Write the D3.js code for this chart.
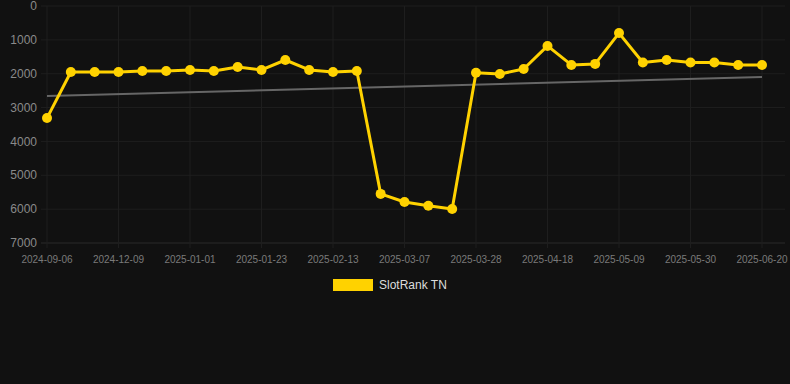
<!DOCTYPE html>
<html lang="en">
<head>
  <meta charset="UTF-8" />
  <title>SlotRank TN</title>
  <script src="https://d3js.org/d3.v7.min.js"></script>
  <style>
    html, body { margin: 0; padding: 0; background: #111111; }
    svg { display: block; font-family: "Liberation Sans", Arial, sans-serif; }
  </style>
</head>
<body>
  <svg id="chart" width="790" height="384"></svg>
  <script>
    // dates for each point (only every third is labelled on the axis)
    const dates = [
      "2024-09-06", "2024-11-18", "2024-12-02", "2024-12-09", "2024-12-16", "2024-12-23",
      "2025-01-01", "2025-01-08", "2025-01-15", "2025-01-23", "2025-01-30", "2025-02-06",
      "2025-02-13", "2025-02-20", "2025-02-27", "2025-03-07", "2025-03-14", "2025-03-21",
      "2025-03-28", "2025-04-04", "2025-04-11", "2025-04-18", "2025-04-25", "2025-05-02",
      "2025-05-09", "2025-05-16", "2025-05-23", "2025-05-30", "2025-06-06", "2025-06-13",
      "2025-06-20"
    ];
    const rank = [
      3310, 1950, 1950, 1950, 1920, 1920, 1890, 1920, 1800, 1890, 1595, 1890,
      1950, 1920, 5550, 5790, 5900, 5995, 1970, 2010, 1860, 1180, 1740, 1710,
      800, 1670, 1595, 1670, 1670, 1740, 1740
    ];
    const trend = [2660, 2097];
    const yTicks = [0, 1000, 2000, 3000, 4000, 5000, 6000, 7000];
    const seriesName = "SlotRank TN";

    const svg = d3.select("#chart");
    const plot = { left: 47, right: 762, top: 6, bottom: 243 };

    const x = d3.scalePoint().domain(dates).range([plot.left, plot.right]);
    const y = d3.scaleLinear().domain([0, 7000]).range([plot.top, plot.bottom]);

    const labelled = dates.filter((d, i) => i % 3 === 0);

    // grid
    svg.append("g")
      .selectAll("line")
      .data(yTicks)
      .join("line")
      .attr("x1", 41).attr("x2", 785)
      .attr("y1", d => y(d)).attr("y2", d => y(d))
      .style("stroke", d => d === 7000 ? "#2a2a2a" : "#1e1e1e")
      .style("stroke-width", 1);

    svg.append("g")
      .selectAll("line")
      .data(labelled)
      .join("line")
      .attr("x1", d => x(d)).attr("x2", d => x(d))
      .attr("y1", plot.top).attr("y2", plot.bottom + 5)
      .style("stroke", "#1e1e1e")
      .style("stroke-width", 1);

    // y labels
    svg.append("g")
      .selectAll("text")
      .data(yTicks)
      .join("text")
      .attr("x", 37)
      .attr("y", d => y(d))
      .attr("dy", "0.35em")
      .attr("text-anchor", "end")
      .attr("fill", "#8a8a8a")
      .style("font-size", "12px")
      .text(d => d);

    // x labels
    svg.append("g")
      .selectAll("text")
      .data(labelled)
      .join("text")
      .attr("x", d => x(d))
      .attr("y", 263)
      .attr("text-anchor", "middle")
      .attr("fill", "#7a7a7a")
      .style("font-size", "10px")
      .text(d => d);

    // trend line
    svg.append("line")
      .attr("x1", x(dates[0])).attr("y1", y(trend[0]))
      .attr("x2", x(dates[dates.length - 1])).attr("y2", y(trend[1]))
      .style("stroke", "#666")
      .style("stroke-width", 2);

    // series
    const line = d3.line()
      .x((d, i) => x(dates[i]))
      .y(d => y(d));

    svg.append("path")
      .datum(rank)
      .attr("d", line)
      .style("fill", "none")
      .style("stroke", "#ffd200")
      .style("stroke-width", 3)
      .style("stroke-linejoin", "round");

    svg.append("g")
      .selectAll("circle")
      .data(rank)
      .join("circle")
      .attr("cx", (d, i) => x(dates[i]))
      .attr("cy", d => y(d))
      .attr("r", 5)
      .style("fill", "#ffd200");

    // legend
    svg.append("rect")
      .attr("x", 333).attr("y", 279)
      .attr("width", 40).attr("height", 12)
      .style("fill", "#ffd200");
    svg.append("text")
      .attr("x", 379).attr("y", 285)
      .attr("dy", "0.35em")
      .attr("fill", "#dddddd")
      .style("font-size", "12px")
      .text(seriesName);
  </script>
</body>
</html>
